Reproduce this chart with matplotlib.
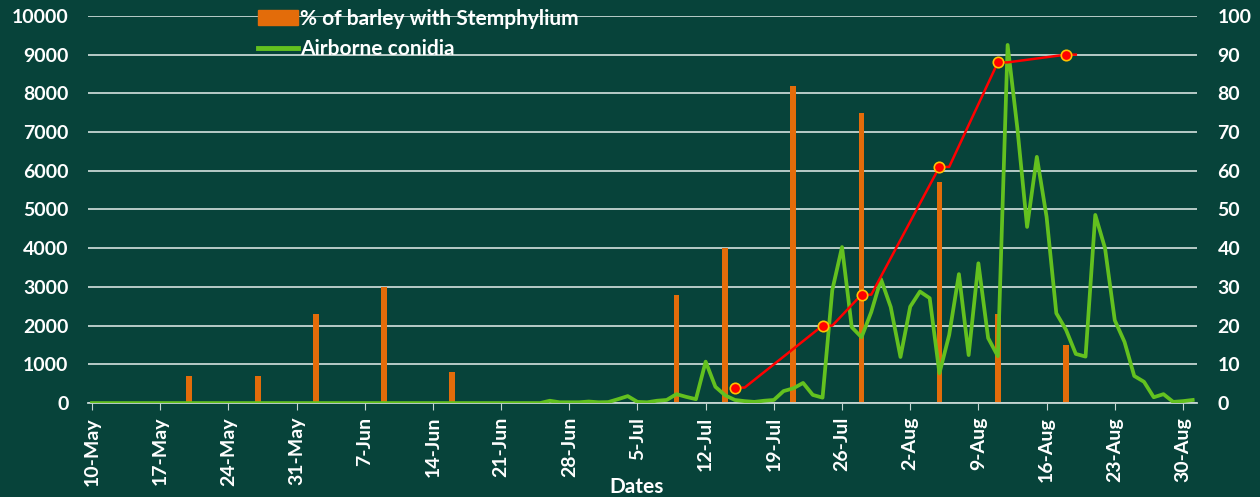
import matplotlib.pyplot as plt
import pandas as pd
from matplotlib.lines import Line2D
from matplotlib.patches import Patch

# ---------------------------------------------------------------------
# data
# ---------------------------------------------------------------------
START = "2020-05-10"
END = "2020-08-31"

# daily airborne conidia, 10-May .. 31-Aug (left axis)
CONIDIA = [0] * 47 + [
    60, 20, 20, 20, 40, 20, 25, 100, 180, 30,          # 26-Jun .. 5-Jul
    20, 60, 80, 230, 160, 100, 1070, 420, 200, 80,     # 6-Jul .. 15-Jul
    50, 30, 60, 80, 310, 380, 520, 210, 140, 2920,     # 16-Jul .. 25-Jul
    4030, 1960, 1700, 2350, 3200, 2480, 1190, 2490, 2880, 2710,  # 26-Jul .. 4-Aug
    770, 1760, 3330, 1240, 3610, 1680, 1210, 9250, 7100, 4550,   # 5-Aug .. 14-Aug
    6360, 4810, 2320, 1890, 1270, 1200, 4860, 4000, 2140, 1580,  # 15-Aug .. 24-Aug
    700, 550, 150, 230, 30, 50, 80,                    # 25-Aug .. 31-Aug
]

# orange bars (left axis)
BAR_DATES = ["2020-05-20", "2020-05-27", "2020-06-02", "2020-06-09",
             "2020-06-16", "2020-07-09", "2020-07-14", "2020-07-21",
             "2020-07-28", "2020-08-05", "2020-08-11", "2020-08-18"]
BAR_VALUES = [700, 700, 2300, 3000, 800, 2800, 4000, 8200, 7500, 5700,
              2300, 1500]

# red line, % (right axis) - each sample is held for one extra day
RED_DATES = ["2020-07-15", "2020-07-16", "2020-07-24", "2020-07-25",
             "2020-07-28", "2020-07-29", "2020-08-05", "2020-08-06",
             "2020-08-11", "2020-08-12", "2020-08-18", "2020-08-19"]
RED_VALUES = [4, 4, 20, 20, 28, 28, 61, 61, 88, 88, 90, 90]

TICK_START = "2020-05-10"
TICK_END = "2020-08-30"

BAR_LABEL = "% of barley with Stemphylium"
LINE_LABEL = "Airborne conidia"

BG = "#07433a"
GRID = "#c5d6d2"
ORANGE = "#e36c0a"
GREEN = "#63c11f"
RED = "#ff0000"
FONT = "Lato"

plt.rcParams["font.family"] = [FONT, "DejaVu Sans"]
plt.rcParams["font.weight"] = "bold"

days = pd.date_range(START, END, freq="D")
bar_days = pd.to_datetime(BAR_DATES)
red_days = pd.to_datetime(RED_DATES)
ticks = pd.date_range(TICK_START, TICK_END, freq="7D")

fig = plt.figure(figsize=(12.6, 4.97), dpi=100, facecolor=BG)
ax = fig.add_axes([0.0698, 0.189, 0.88, 0.779])
ax.set_facecolor(BG)

ax.bar(bar_days, BAR_VALUES, width=0.6, color=ORANGE, zorder=2)
ax.plot(days, CONIDIA, color=GREEN, linewidth=2.7, zorder=3)

ax.set_ylim(0, 10000)
ax.set_yticks(range(0, 10001, 1000))
ax.set_xlim(days[0] - pd.Timedelta(hours=10), days[-1] + pd.Timedelta(hours=10))
ax.set_xticks(ticks)
ax.set_xticklabels([f"{d.day}-{d.strftime('%b')}" for d in ticks],
                   rotation=90)
ax.grid(axis="y", color=GRID, linewidth=1.3, zorder=0)
ax.set_axisbelow(True)

for s in ["top", "left", "right"]:
    ax.spines[s].set_visible(False)
ax.spines["bottom"].set_color(GRID)
ax.spines["bottom"].set_linewidth(1.3)
ax.tick_params(axis="x", colors="white", labelsize=14, length=5,
               color=GRID, pad=5)
ax.tick_params(axis="y", colors="white", labelsize=14, length=0, pad=14)

ax2 = ax.twinx()
ax2.set_ylim(0, 100)
ax2.set_yticks(range(0, 101, 10))
ax2.plot(red_days, RED_VALUES, color=RED, linewidth=1.8, marker="o",
         markersize=7.5, markerfacecolor=RED, markeredgecolor="#ffc000",
         markeredgewidth=1.2, markevery=2, zorder=4)
for s in ax2.spines.values():
    s.set_visible(False)
ax2.tick_params(axis="y", colors="white", labelsize=14, length=0, pad=15)

for lab in ax.get_xticklabels() + ax.get_yticklabels() + ax2.get_yticklabels():
    lab.set_fontweight("bold")

handles = [Patch(facecolor=ORANGE, edgecolor=ORANGE),
           Line2D([], [], color=GREEN, linewidth=3.5)]
leg = fig.legend(handles, [BAR_LABEL, LINE_LABEL], loc="upper left",
                 bbox_to_anchor=(0.2048, 0.982), frameon=False,
                 fontsize=15, handlelength=1.9, handleheight=0.72,
                 handletextpad=0.1, labelspacing=0.5, borderpad=0,
                 borderaxespad=0)
for t in leg.get_texts():
    t.set_color("white")
    t.set_fontweight("bold")

fig.text(0.505, 0.02, "Dates", color="white", fontsize=15,
         fontweight="bold", ha="center", va="center")

fig.savefig("out.png", dpi=100, facecolor=BG)
